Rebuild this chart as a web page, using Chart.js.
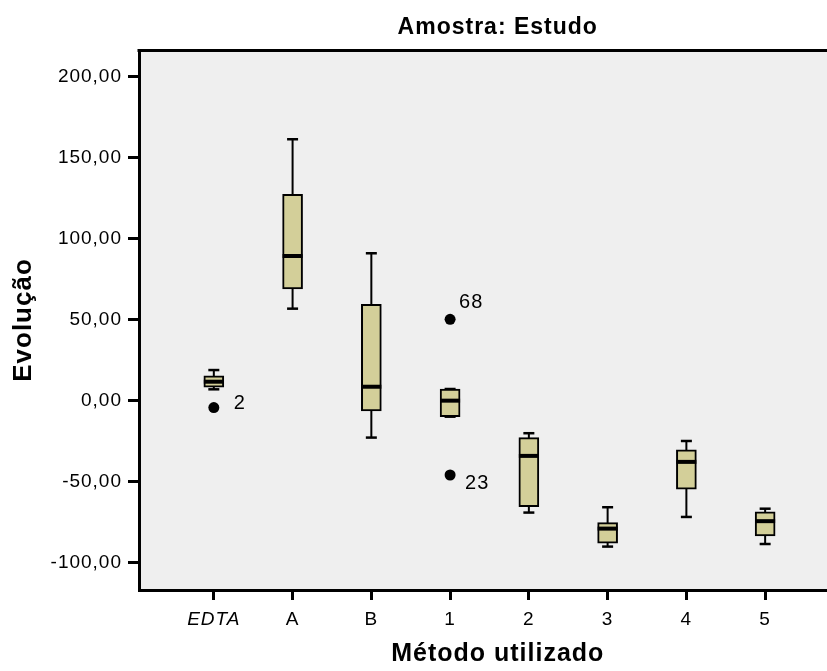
<!DOCTYPE html>
<html>
<head>
<meta charset="utf-8">
<script src="https://cdn.jsdelivr.net/npm/chart.js@4/dist/chart.umd.min.js"></script>
<style>
html, body { margin: 0; padding: 0; overflow: hidden; background: #ffffff; width: 827px; height: 671px; }
#wrap { width: 827px; height: 671px; overflow: hidden; position: relative; }
canvas { display: block; }
</style>
</head>
<body>
<div id="wrap"><canvas id="chart" width="862" height="671"></canvas></div>
<script>
// ---- data ----
const categories  = ['EDTA', 'A', 'B', '1', '2', '3', '4', '5'];
const whiskerLow  = [7.0, 56.8, -22.8, -9.9, -69.1, -90.1, -71.8, -88.5];
const q1          = [8.3, 69.0, -6.4, -9.9, -65.4, -88.0, -54.7, -83.5];
const medians     = [11.7, 89.3, 8.6, 0.0, -34.1, -79.0, -37.8, -74.4];
const q3          = [15.4, 127.4, 59.5, 7.2, -22.8, -75.3, -30.4, -68.7];
const whiskerHigh = [18.9, 161.4, 91.0, 7.2, -20.1, -65.8, -24.9, -66.7];
const outlierCats   = ['EDTA', '1', '1'];
const outlierValues = [-4.3, 50.2, -45.9];
const outlierLabels = ['2', '68', '23'];
const yTicks = [-100, -50, 0, 50, 100, 150, 200];

// ---- styles ----
const FONT = "'Liberation Sans', Arial, Helvetica, sans-serif";
const PLOT_BG = '#EFEFEF';
const BOX_FILL = '#D3CF99';
const BOX_W = 20;
const CAP_W = 11;
const labelOffsets = [[20, -4], [9, -17], [15, 8]];

Chart.defaults.font.family = FONT;
Chart.defaults.color = '#000';

const boxParts = {
  id: 'boxParts',
  beforeDraw(chart) {
    const { ctx, chartArea: a } = chart;
    ctx.save();
    ctx.fillStyle = PLOT_BG;
    ctx.fillRect(a.left, a.top, a.right - a.left, a.bottom - a.top);
    ctx.restore();
    ctx.letterSpacing = '1px';
  },
  beforeDatasetsDraw(chart) {
    const { ctx } = chart;
    const xs = chart.scales.x, ys = chart.scales.y;
    ctx.save();
    ctx.strokeStyle = '#000';
    categories.forEach((c, i) => {
      const px = xs.getPixelForValue(i + 1);
      const lo = ys.getPixelForValue(whiskerLow[i]);
      const hi = ys.getPixelForValue(whiskerHigh[i]);
      ctx.lineWidth = 2;
      ctx.beginPath(); ctx.moveTo(px, lo); ctx.lineTo(px, hi); ctx.stroke();
      ctx.lineWidth = 2.5;
      [lo, hi].forEach(py => {
        ctx.beginPath(); ctx.moveTo(px - CAP_W / 2, py); ctx.lineTo(px + CAP_W / 2, py); ctx.stroke();
      });
    });
    ctx.restore();
  },
  afterDatasetsDraw(chart) {
    const { ctx } = chart;
    const xs = chart.scales.x, ys = chart.scales.y;
    ctx.save();
    ctx.strokeStyle = '#000';
    ctx.lineWidth = 4;
    categories.forEach((c, i) => {
      const px = xs.getPixelForValue(i + 1);
      const py = ys.getPixelForValue(medians[i]);
      ctx.beginPath(); ctx.moveTo(px - BOX_W / 2, py); ctx.lineTo(px + BOX_W / 2, py); ctx.stroke();
    });
    ctx.fillStyle = '#000';
    ctx.font = '20px ' + FONT;
    ctx.textAlign = 'left';
    ctx.textBaseline = 'middle';
    outlierLabels.forEach((lab, i) => {
      const px = xs.getPixelForValue(categories.indexOf(outlierCats[i]) + 1);
      const py = ys.getPixelForValue(outlierValues[i]);
      ctx.fillText(lab, px + labelOffsets[i][0], py + labelOffsets[i][1]);
    });
    ctx.restore();
  },
  afterDraw(chart) {
    const { ctx, chartArea: a } = chart;
    ctx.save();
    ctx.strokeStyle = '#000';
    ctx.lineWidth = 3;
    ctx.beginPath(); ctx.moveTo(a.left - 1.5, a.top + 0.5); ctx.lineTo(a.right, a.top + 0.5); ctx.stroke();
    ctx.restore();
  }
};

new Chart(document.getElementById('chart'), {
  type: 'bar',
  data: {
    datasets: [
      {
        type: 'bar',
        data: categories.map((c, i) => ({ x: i + 1, y: [q1[i], q3[i]] })),
        backgroundColor: BOX_FILL,
        borderColor: '#000',
        borderWidth: 2,
        borderSkipped: false,
        barThickness: BOX_W
      },
      {
        type: 'scatter',
        data: outlierCats.map((c, i) => ({ x: categories.indexOf(c) + 1, y: outlierValues[i] })),
        backgroundColor: '#000',
        borderWidth: 0,
        pointRadius: 5.5
      }
    ]
  },
  options: {
    responsive: false,
    animation: false,
    events: [],
    layout: { padding: 0 },
    plugins: {
      legend: { display: false },
      tooltip: { enabled: false },
      title: {
        display: true,
        text: 'Amostra: Estudo',
        fullSize: false,
        color: '#000',
        font: { size: 23, weight: 'bold' },
        padding: { top: 13.5, bottom: 8.9 }
      }
    },
    scales: {
      x: {
        type: 'linear',
        min: 0.05,
        max: 9.16,
        bounds: 'data',
        offset: false,
        afterBuildTicks: s => { s.ticks = categories.map((c, i) => ({ value: i + 1 })); },
        afterFit: s => { s.height = 81; },
        grid: { display: true, offset: false, drawOnChartArea: false, drawTicks: true, tickLength: 10, tickWidth: 3, tickColor: '#000' },
        border: { display: true, width: 3, color: '#000' },
        ticks: {
          autoSkip: false,
          maxRotation: 0,
          padding: 8,
          color: '#000',
          font: ctx => ({ size: 19, style: ctx.index === 0 ? 'italic' : 'normal' }),
          callback: v => categories[v - 1] ?? ''
        },
        title: {
          display: true,
          text: 'Método utilizado',
          color: '#000',
          font: { size: 25, weight: 'bold' },
          padding: { top: 0, bottom: 2 }
        }
      },
      y: {
        type: 'linear',
        min: -116.9,
        max: 216.5,
        bounds: 'data',
        afterBuildTicks: s => { s.ticks = yTicks.map(v => ({ value: v })); },
        afterFit: s => { s.width = 139; },
        grid: { display: true, drawOnChartArea: false, drawTicks: true, tickLength: 11, tickWidth: 3, tickColor: '#000' },
        border: { display: true, width: 3, color: '#000' },
        ticks: {
          padding: 6,
          color: '#000',
          font: { size: 19 },
          callback: v => v.toFixed(2).replace('.', ',')
        },
        title: {
          display: true,
          text: 'Evolução',
          color: '#000',
          font: { size: 26, weight: 'bold' },
          padding: { top: 8, bottom: 0 }
        }
      }
    }
  },
  plugins: [boxParts]
});
</script>
</body>
</html>
